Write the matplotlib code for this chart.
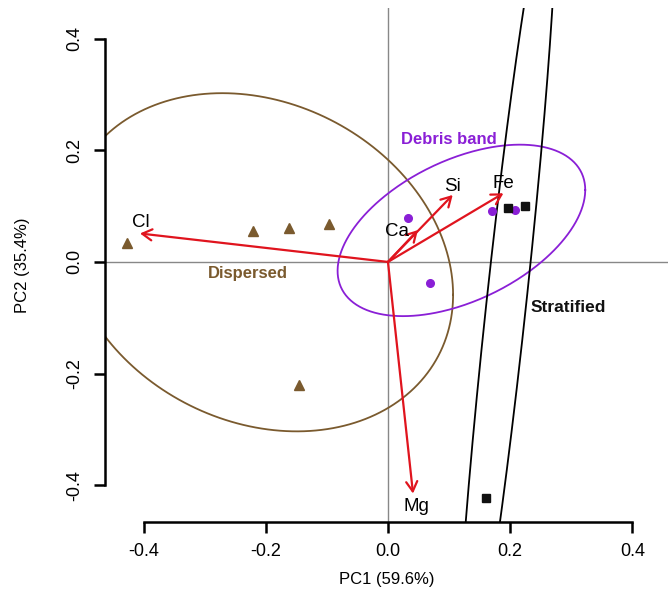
import numpy as np
import matplotlib
matplotlib.use("Agg")
import matplotlib.pyplot as plt
from matplotlib.patches import FancyArrowPatch

plt.rcParams['font.family'] = ['Liberation Sans', 'DejaVu Sans']

# ---- data ----
dispersed_x = [-0.428, -0.221, -0.162, -0.096, -0.145]
dispersed_y = [0.034, 0.056, 0.060, 0.068, -0.221]
debris_x = [0.033, 0.069, 0.171, 0.208]
debris_y = [0.078, -0.037, 0.092, 0.093]
strat_x = [0.196, 0.225, 0.160]
strat_y = [0.097, 0.100, -0.423]

var_names = ["Cl", "Si", "Fe", "Ca", "Mg"]
var_x = [-0.406, 0.106, 0.189, 0.049, 0.041]
var_y = [0.051, 0.120, 0.123, 0.057, -0.415]
lab_x = [-0.404, 0.106, 0.189, 0.014, 0.047]
lab_y = [0.070, 0.136, 0.140, 0.054, -0.438]

# ellipse shape matrices (covariance-like, data units)
dispersed_S = [[0.1005, -0.0185], [-0.0185, 0.0918]]
debris_S = [[0.0411, 0.0147], [0.0147, 0.0236]]
strat_S = [[0.00663, 0.0567], [0.0567, 0.578]]

ticks = [-0.4, -0.2, 0.0, 0.2, 0.4]
tick_labels = ["-0.4", "-0.2", "0.0", "0.2", "0.4"]

brown = "#7A5A2E"
purple = "#8A1FD6"
red = "#E0141E"

fig = plt.figure(figsize=(6.69, 5.98), dpi=100)
ax = fig.add_axes([105/669, 1 - 522/598, (668 - 105)/669, (522 - 8)/598])
ax.set_xlim(-0.4633, 0.4585)
ax.set_ylim(-0.466, 0.455)

ax.axhline(0, color="#888888", lw=1.0, zorder=1)
ax.axvline(0, color="#888888", lw=1.0, zorder=1)

def ellipse(xs, ys, S, color):
    c = np.array([np.mean(xs), np.mean(ys)])
    L = np.linalg.cholesky(np.array(S))
    t = np.linspace(0, 2*np.pi, 400)
    pts = c[:, None] + L @ np.vstack([np.cos(t), np.sin(t)])
    ax.plot(pts[0], pts[1], color=color, lw=1.3, zorder=2)

ellipse(dispersed_x, dispersed_y, dispersed_S, brown)
ellipse(debris_x, debris_y, debris_S, purple)
ellipse(strat_x, strat_y, strat_S, "black")

ax.plot(dispersed_x, dispersed_y, linestyle="none", marker="^", ms=7.5,
        color=brown, zorder=4)
ax.plot(debris_x, debris_y, linestyle="none", marker="o", ms=5.5,
        color=purple, zorder=4)
ax.plot(strat_x, strat_y, linestyle="none", marker="s", ms=5.5,
        color="#111111", zorder=4)

for n, vx, vy, lx, ly in zip(var_names, var_x, var_y, lab_x, lab_y):
    arr = FancyArrowPatch((0, 0), (vx, vy),
                          arrowstyle="->,head_length=7,head_width=4",
                          color=red, lw=1.6, shrinkA=0, shrinkB=0, zorder=5)
    ax.add_patch(arr)
    ax.text(lx, ly, n, ha="center", va="center", fontsize=13.5,
            color="black", zorder=6)

ax.text(-0.229, -0.021, "Dispersed", color=brown, fontsize=12,
        fontweight="bold", ha="center", va="center")
ax.text(0.099, 0.219, "Debris band", color=purple, fontsize=12,
        fontweight="bold", ha="center", va="center")
ax.text(0.295, -0.082, "Stratified", color="#111111", fontsize=12.5,
        fontweight="bold", ha="center", va="center")

for s in ["top", "right"]:
    ax.spines[s].set_visible(False)
for s in ["left", "bottom"]:
    ax.spines[s].set_linewidth(1.8)
ax.spines["left"].set_bounds(-0.4, 0.4)
ax.spines["bottom"].set_bounds(-0.4, 0.4)

ax.set_xticks(ticks)
ax.set_xticklabels(tick_labels)
ax.set_yticks(ticks)
ax.set_yticklabels(tick_labels, rotation=90, va="center")
ax.tick_params(axis="both", direction="out", length=8, width=1.8,
               labelsize=13)
ax.tick_params(axis="x", pad=7)
ax.tick_params(axis="y", pad=8)

ax.set_xlabel("PC1 (59.6%)", fontsize=12, labelpad=9)
ax.set_ylabel("PC2 (35.4%)", fontsize=12, labelpad=26)

fig.savefig("out.png", dpi=100)
